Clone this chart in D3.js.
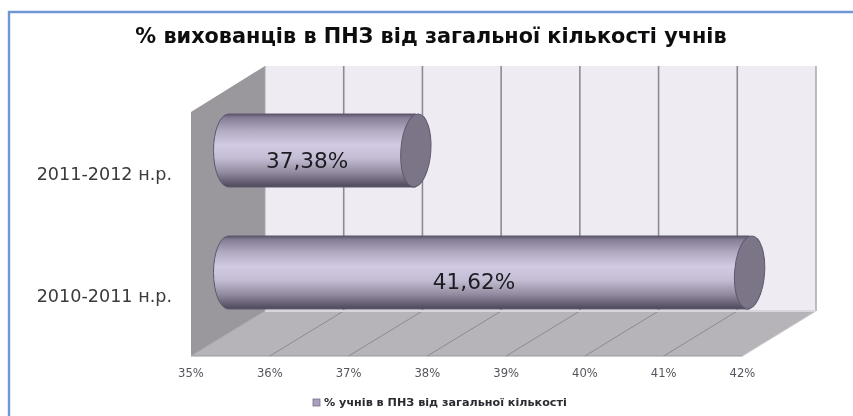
<!DOCTYPE html>
<html><head><meta charset="utf-8">
<script src="https://cdn.jsdelivr.net/npm/d3@7"></script>
<style>html,body{margin:0;padding:0;background:#fff}svg{display:block}text{font-family:"DejaVu Sans",sans-serif}</style>
</head><body><div id="c"></div>
<script>
const categories = ["2010-2011 н.р.", "2011-2012 н.р."];
const values = [41.62, 37.38];
const valueLabels = ["41,62%", "37,38%"];
const ticks = [35, 36, 37, 38, 39, 40, 41, 42];
const title = "% вихованців в ПНЗ від загальної кількості учнів";
const seriesName = "% учнів в ПНЗ від загальної кількості";

const svg = d3.select("#c").append("svg").attr("width", 853).attr("height", 416);
const defs = svg.append("defs");
const grad = defs.append("linearGradient").attr("id", "cyl").attr("x1", 0).attr("y1", 0).attr("x2", 0).attr("y2", 1);
[[0, "#5d5668"], [0.05, "#857c95"], [0.22, "#b0a9c0"], [0.42, "#d2cae3"], [0.6, "#c5bdd4"], [0.8, "#938ca0"], [0.94, "#625b6f"], [1, "#4e485a"]]
  .forEach(([o, c]) => grad.append("stop").attr("offset", o).attr("stop-color", c));
const blur = defs.append("filter").attr("id", "soft").attr("filterUnits", "userSpaceOnUse")
  .attr("x", 0).attr("y", 0).attr("width", 853).attr("height", 416);
blur.append("feGaussianBlur").attr("stdDeviation", 0.4);

// frame
svg.append("path").attr("d", "M9,416V12H853").attr("fill", "none").attr("stroke", "#6f97d6").attr("stroke-width", 2.4);

const dom = d3.extent(ticks);
const xBack = d3.scaleLinear().domain(dom).range([265, 816]);
const xFront = d3.scaleLinear().domain(dom).range([191, 742.5]);
const xBar = d3.scaleLinear().domain(dom).range([228.5, 779.5]);
const yBand = d3.scaleBand().domain(categories).range([309, 114]).paddingInner(0.4016).paddingOuter(0);
const yTop = 66, yBackBottom = 311, yFrontTop = 112, yFront = 356;

const g = svg.append("g").attr("filter", "url(#soft)");
// back wall
g.append("rect").attr("x", xBack(35)).attr("y", yTop).attr("width", xBack(42) - xBack(35)).attr("height", yBackBottom - yTop).attr("fill", "#eeecf2");
// left wall
g.append("path").attr("d", `M${xBack(35)},${yTop}L${xFront(35)},${yFrontTop}V${yFront}L${xBack(35)},${yBackBottom}Z`).attr("fill", "#9a989c");
// floor
g.append("path").attr("d", `M${xBack(35)},${yBackBottom}H${xBack(42)}L${xFront(42)},${yFront}H${xFront(35)}Z`).attr("fill", "#b6b4b8");
g.append("path").attr("d", `M${xFront(35)},${yFront}H${xFront(42)}`).attr("stroke", "#98979b").attr("stroke-width", 1.2);
// gridlines
ticks.forEach(t => {
  if (t > 35) {
    g.append("path").attr("d", `M${xBack(t)},${yTop}V${yBackBottom}`).attr("fill", "none").attr("stroke", t === 42 ? "#acabb0" : "#8c8b90").attr("stroke-width", 1.6);
    g.append("path").attr("d", `M${xBack(t)},${yBackBottom}L${xFront(t)},${yFront}`).attr("fill", "none").attr("stroke", t === 42 ? "#c8c7ca" : "#8c8b90").attr("stroke-width", 1);
  }
});
g.append("path").attr("d", `M${xBack(35)},${yTop}V${yBackBottom}L${xFront(35)},${yFront}`).attr("fill", "none").attr("stroke", "#a8a7ab").attr("stroke-width", 1);
g.append("path").attr("d", `M${xBack(35)},${yBackBottom}H${xBack(42)}`).attr("stroke", "#d8d6dc").attr("stroke-width", 2);

// cylinders
const rx = 15;
categories.forEach((cat, i) => {
  const top = yBand(cat), h = yBand.bandwidth(), ry = h / 2, cy = top + ry;
  const x0 = xBar(35), x1 = xBar(values[i]);
  const b = g.append("g");
  b.append("path")
    .attr("d", `M${x1},${top}H${x0}A${rx},${ry} 0 0 0 ${x0},${top + h}H${x1}Z`)
    .attr("fill", "url(#cyl)").attr("stroke", "#5f586e").attr("stroke-width", 1);
  b.append("ellipse").attr("cx", x1).attr("cy", cy).attr("rx", rx).attr("ry", ry)
    .attr("transform", `rotate(4 ${x1} ${cy})`)
    .attr("fill", "#7b7587").attr("stroke", "#5f586e").attr("stroke-width", 1);
  g.append("text").attr("x", (x0 + x1) / 2 - 15).attr("y", cy + 17).attr("text-anchor", "middle")
    .attr("font-size", 21.6).attr("fill", "#1c1c22").text(valueLabels[i]);
  g.append("text").attr("x", 172).attr("y", cy + 29.5).attr("text-anchor", "end")
    .attr("font-size", 17.6).attr("fill", "#3a3a3e").text(cat);
});

// axis labels
ticks.forEach(t => {
  g.append("text").attr("x", xFront(t)).attr("y", 377).attr("text-anchor", "middle")
    .attr("font-size", 11.6).attr("fill", "#55555c").text(t + "%");
});

// title
g.append("text").attr("x", 431).attr("y", 43).attr("text-anchor", "middle")
  .attr("font-size", 20.8).attr("font-weight", "bold").attr("fill", "#0c0c10").text(title);

// legend
g.append("rect").attr("x", 313).attr("y", 399).attr("width", 7).attr("height", 7).attr("fill", "#a9a0bf").attr("stroke", "#77708a").attr("stroke-width", 0.8);
g.append("text").attr("x", 324).attr("y", 406).attr("font-size", 11.2).attr("font-weight", "bold").attr("fill", "#2a2a30").text(seriesName);
</script></body></html>
